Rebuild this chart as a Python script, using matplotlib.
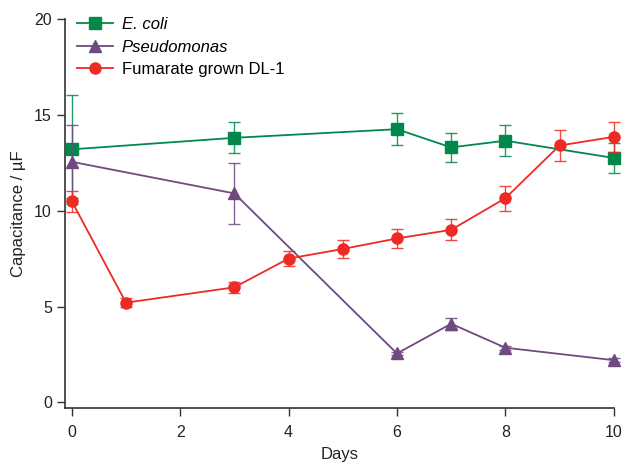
import matplotlib.pyplot as plt
import numpy as np

plt.rcParams['font.family'] = ['Liberation Sans', 'DejaVu Sans']

# Daten
ecoli_days = [0, 3, 6, 7, 8, 10]
ecoli_cap = [13.2, 13.8, 14.25, 13.3, 13.65, 12.75]
ecoli_err = [2.85, 0.8, 0.85, 0.75, 0.8, 0.8]

pseudo_days = [0, 3, 6, 7, 8, 10]
pseudo_cap = [12.55, 10.9, 2.55, 4.1, 2.85, 2.2]
pseudo_err = [1.9, 1.6, 0.1, 0.3, 0.1, 0.1]

fum_days = [0, 1, 3, 4, 5, 6, 7, 8, 9, 10]
fum_cap = [10.5, 5.2, 6.0, 7.5, 8.0, 8.55, 9.0, 10.65, 13.4, 13.85]
fum_err = [0.55, 0.25, 0.3, 0.4, 0.45, 0.5, 0.55, 0.65, 0.8, 0.8]

green = '#00894a'
purple = '#6e4a7e'
red = '#ee2a24'

fig = plt.figure(figsize=(6.25, 4.63), dpi=100)
ax = fig.add_axes([0.104, 0.119, 0.878, 0.840])

for days, cap, err, col, mk, lab in [
        (ecoli_days, ecoli_cap, ecoli_err, green, 's', 'E. coli'),
        (pseudo_days, pseudo_cap, pseudo_err, purple, '^', 'Pseudomonas'),
        (fum_days, fum_cap, fum_err, red, 'o', 'Fumarate grown DL-1')]:
    ax.errorbar(days, cap, yerr=err, fmt='none', ecolor=col, elinewidth=1.0,
                capsize=4, capthick=1.0, alpha=0.85, clip_on=False)
    ax.plot(days, cap, color=col, marker=mk, markersize=8, linewidth=1.3,
            label=lab, clip_on=False)

ax.set_xlim(-0.124, 10)
ax.set_ylim(-0.29, 20)
ax.set_xticks([0, 2, 4, 6, 8, 10])
ax.set_yticks([0, 5, 10, 15, 20])
ax.spines['top'].set_visible(False)
ax.spines['right'].set_visible(False)
for s in ['left', 'bottom']:
    ax.spines[s].set_color('#333333')
    ax.spines[s].set_linewidth(1.2)
ax.tick_params(direction='out', length=6, width=1.0, colors='#333333',
               labelsize=11.5, labelcolor='#222222')
ax.tick_params(axis='x', pad=6)
ax.set_xlabel('Days', fontsize=12, color='#222222', labelpad=5)
ax.set_ylabel('Capacitance / µF', fontsize=12, color='#222222', labelpad=6)

leg = ax.legend(loc='upper left', bbox_to_anchor=(0.0, 1.035), frameon=False,
                fontsize=12, handlelength=2.2, handletextpad=0.5,
                borderaxespad=0.3, labelspacing=0.45)
leg.get_texts()[0].set_fontstyle('italic')
leg.get_texts()[1].set_fontstyle('italic')

plt.savefig('out.png')
